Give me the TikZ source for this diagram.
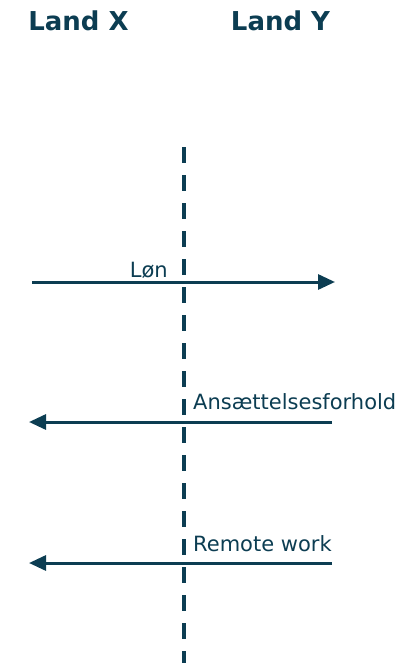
\documentclass[tikz,border=0pt]{standalone}
\usepackage{fontspec}
\setmainfont{DejaVu Sans}
\usepackage{xcolor}
\usetikzlibrary{arrows.meta}
\definecolor{darkteal}{RGB}{12,61,82}

\tikzset{
  title/.style={anchor=base, inner sep=0pt, font=\fontsize{26}{30}\selectfont\bfseries},
  flowlabel/.style={anchor=base west, inner sep=0pt, font=\fontsize{21}{25}\selectfont},
  flow/.style={line width=3pt, -{Triangle[length=17pt,width=15pt]}},
  border/.style={line width=4pt, dash pattern=on 16pt off 12pt}
}

\begin{document}
\begin{tikzpicture}[x=1pt, y=-1pt, color=darkteal]
  \useasboundingbox (0,0) rectangle (405,665);

  % Country headings
  \node[title] (landx) at (78.5,30) {Land X};
  \node[title] (landy) at (280.5,30) {Land Y};

  % Border between the two countries
  \coordinate (bordertop) at (184,147);
  \coordinate (borderbot) at (184,663);
  \draw[border] (bordertop) -- (borderbot);

  % Salary, X to Y
  \coordinate (lonstart) at (32,282);
  \coordinate (lonend) at (335,282);
  \draw[flow] (lonstart) -- (lonend);
  \node[flowlabel, anchor=base east] (lon) at (168,277) {Løn};

  % Employment, Y to X
  \coordinate (ansstart) at (332,422);
  \coordinate (ansend) at (29,422);
  \draw[flow] (ansstart) -- (ansend);
  \node[flowlabel] (ans) at (193,409) {Ansættelsesforhold};

  % Remote work, Y to X
  \coordinate (remstart) at (332,563);
  \coordinate (remend) at (29,563);
  \draw[flow] (remstart) -- (remend);
  \node[flowlabel] (rem) at (193,551) {Remote work};
\end{tikzpicture}
\end{document}
